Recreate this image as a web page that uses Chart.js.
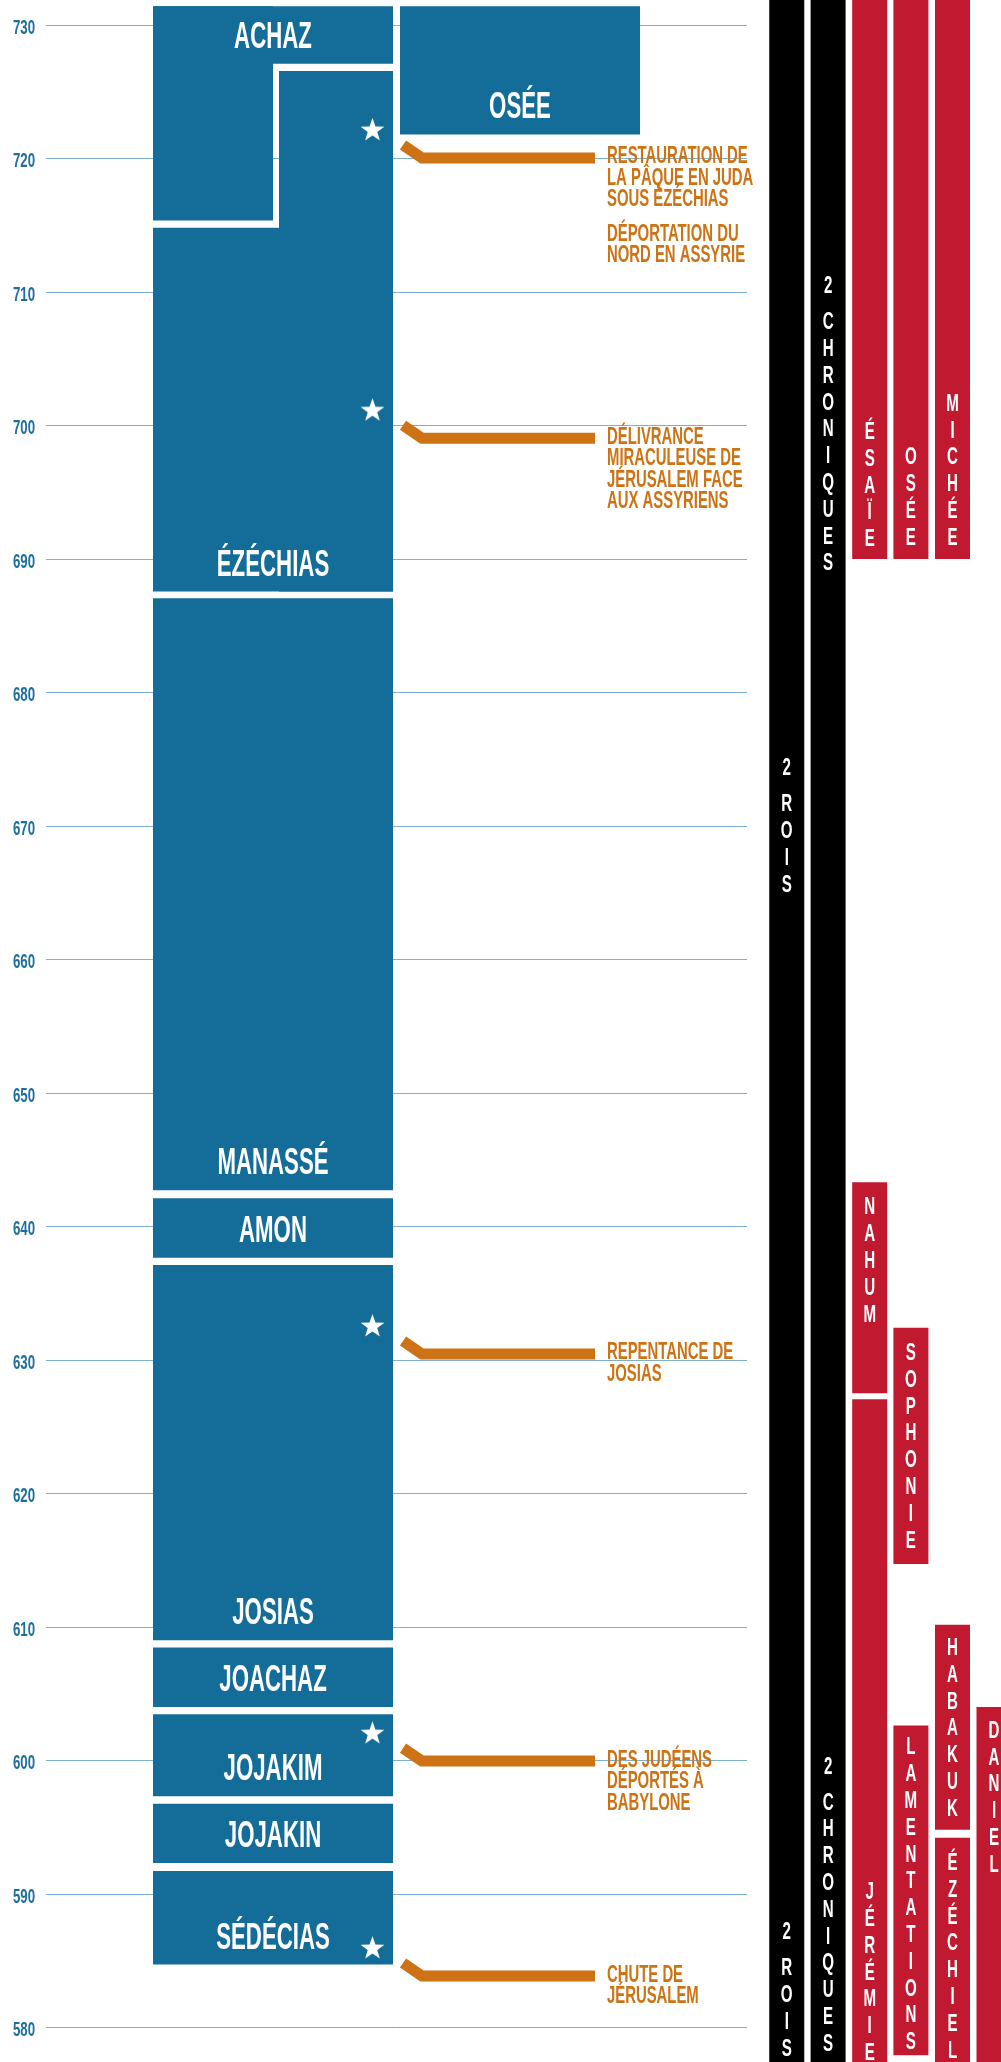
<!DOCTYPE html>
<html lang="fr">
<head>
<meta charset="utf-8">
<title>Rois de Juda et prophètes, 730–580 av. J.-C.</title>
<script src="https://cdn.jsdelivr.net/npm/chart.js@4.4.1/dist/chart.umd.min.js"></script>
<style>
  html, body { margin: 0; padding: 0; background: #ffffff; overflow: hidden; }
  canvas { display: block; }
</style>
</head>
<body>
<canvas id="timeline" width="1001" height="2062"></canvas>
<script>
// years BC, the axis runs down from 730 to 580
const tickYears = [730, 720, 710, 700, 690, 680, 670, 660, 650, 640, 630, 620, 610, 600, 590, 580];

// kings of Judah (full column)
const kingNames = ['ACHAZ', 'ÉZÉCHIAS', 'MANASSÉ', 'AMON', 'JOSIAS', 'JOACHAZ', 'JOJAKIM', 'JOJAKIN', 'SÉDÉCIAS'];
const kingFrom = [731.4, 714.8, 687.05, 642.1, 637.1, 608.45, 603.45, 596.75, 591.7];
const kingTo = [727.1, 687.55, 642.7, 637.65, 609.0, 604.0, 597.3, 592.3, 584.7];

// Achaz (left half) and Ézéchias co-regency (right half)
const coregencyNames = ['ACHAZ', 'ÉZÉCHIAS'];
const coregencyFrom = [731.4, 726.55];
const coregencyTo = [715.35, 687.55];

// king of Israel
const israelNames = ['OSÉE'];
const israelFrom = [731.4];
const israelTo = [721.8];

// books
const bookNames = ['2 ROIS', '2 CHRONIQUES', 'ÉSAÏE', 'OSÉE', 'MICHÉE', 'NAHUM', 'JÉRÉMIE', 'SOPHONIE', 'LAMENTATIONS', 'HABAKUK', 'ÉZÉCHIEL', 'DANIEL'];
const bookGroup = ['histoire', 'histoire', 'prophète', 'prophète', 'prophète', 'prophète', 'prophète', 'prophète', 'prophète', 'prophète', 'prophète', 'prophète'];
const bookColumn = [0, 1, 2, 3, 4, 2, 2, 3, 3, 4, 4, 5];
const bookFrom = [733, 733, 733, 733, 733, 643.3, 627.05, 632.4, 602.6, 610.15, 594.2, 604.0];
const bookTo = [576, 576, 690, 690, 690, 627.5, 576, 614.7, 577.9, 594.8, 576, 576];
const bookLabelYears = [[675.1, 587.9], [711.2, 600.3], [700.3], [698.4], [702.4], [642.2], [590.9], [631.3], [601.75], [609.2], [593.1], [603.0]];

// events
const eventLabels = [
    'RESTAURATION DE\nLA PÂQUE EN JUDA\nSOUS ÉZÉCHIAS',
    'DÉPORTATION DU\nNORD EN ASSYRIE',
    'DÉLIVRANCE\nMIRACULEUSE DE\nJÉRUSALEM FACE\nAUX ASSYRIENS',
    'REPENTANCE DE\nJOSIAS',
    'DES JUDÉENS\nDÉPORTÉS À\nBABYLONE',
    'CHUTE DE\nJÉRUSALEM'
];
const eventYears = [722.1, 716.3, 701.1, 632.5, 602.0, 585.9];
const eventStarred = [true, false, true, true, true, true];

// styles and layout
const BLUE = '#146c99';
const ORANGE = '#cd7315';
const GRID = '#7aafcf';
const TICK_COLOR = '#1f6f9c';
const groupColors = { 'histoire': '#000000', 'prophète': '#c1192f' };
const FONT = "'Liberation Sans', Arial, sans-serif";

// x axis is laid out in pixels (chart area runs 46 -> 1001)
const LANES = {
    judah: { x: 273, w: 240 },
    judahLeft: { x: 213, w: 120 },
    judahRight: { x: 336, w: 114 },
    israel: { x: 520, w: 240 }
};
const coregencyLanes = [LANES.judahLeft, LANES.judahRight];
const bookColumnX = [786.75, 828.1, 869.7, 910.9, 952.5, 994];
const BOOK_W = 35;
const STAR_X = 372.5;

function makeStar(r) {
    const c = document.createElement('canvas');
    c.width = c.height = Math.ceil(r * 2 + 2);
    const g = c.getContext('2d');
    const cx = c.width / 2;
    const cy = c.height / 2;
    g.fillStyle = '#ffffff';
    g.beginPath();
    for (let i = 0; i < 10; i++) {
        const rad = i % 2 ? r * 0.4 : r;
        const a = -Math.PI / 2 + i * Math.PI / 5;
        g.lineTo(cx + rad * Math.cos(a), cy + rad * Math.sin(a));
    }
    g.closePath();
    g.fill();
    return c;
}

function condensedText(ctx, text, x, y, size, squeeze, align, color) {
    ctx.save();
    ctx.font = `bold ${size}px ${FONT}`;
    ctx.fillStyle = color;
    ctx.textAlign = align;
    ctx.textBaseline = 'alphabetic';
    ctx.translate(x, y);
    ctx.scale(squeeze, 1);
    ctx.fillText(text, 0, 0);
    ctx.restore();
}

function floatingBars(from, to, lane) {
    return from.map((f, i) => ({ x: lane.x, y: [to[i], f] }));
}

function barDataset(label, data, width, color, names) {
    return {
        label,
        data,
        names,
        backgroundColor: color,
        barThickness: width,
        grouped: false,
        borderWidth: 0,
        inflateAmount: 0
    };
}

const timelinePlugin = {
    id: 'timeline',
    beforeDatasetsDraw(chart) {
        const { ctx } = chart;
        const y = chart.scales.y;
        ctx.save();
        ctx.strokeStyle = GRID;
        ctx.lineWidth = 1;
        y.ticks.forEach(t => {
            const py = Math.round(y.getPixelForValue(t.value)) + 0.5;
            ctx.beginPath();
            ctx.moveTo(46, py);
            ctx.lineTo(747, py);
            ctx.stroke();
            condensedText(ctx, String(t.value), 35, py + 8.5, 19.5, 0.68, 'right', TICK_COLOR);
        });
        ctx.restore();
    },
    afterDatasetsDraw(chart) {
        const { ctx } = chart;
        const y = chart.scales.y;

        // names inside the reign bars
        chart.data.datasets.forEach((ds, di) => {
            if (!ds.names) return;
            chart.getDatasetMeta(di).data.forEach((el, i) => {
                if (!ds.names[i]) return;
                const bottom = Math.max(el.y, el.base);
                condensedText(ctx, ds.names[i], el.x, bottom - 16, 37.7, 0.59, 'center', '#ffffff');
            });
        });

        // vertical book names
        bookNames.forEach((name, i) => {
            const x = bookColumnX[bookColumn[i]];
            bookLabelYears[i].forEach(yr => {
                let top = y.getPixelForValue(yr);
                for (const ch of name) {
                    if (ch === ' ') {
                        top += 9;
                        continue;
                    }
                    condensedText(ctx, ch, x, top + 17.5, 24.4, 0.62, 'center', '#ffffff');
                    top += 26.8;
                }
            });
        });

        // events: connector + text
        eventLabels.forEach((label, i) => {
            const sy = y.getPixelForValue(eventYears[i]);
            if (eventStarred[i]) {
                ctx.save();
                ctx.beginPath();
                ctx.moveTo(403, sy + 14.5);
                ctx.lineTo(422, sy + 27.5);
                ctx.lineTo(595, sy + 27.5);
                ctx.strokeStyle = ORANGE;
                ctx.lineWidth = 11;
                ctx.lineCap = 'butt';
                ctx.lineJoin = 'miter';
                ctx.stroke();
                ctx.restore();
            }
            label.split('\n').forEach((line, k) => {
                condensedText(ctx, line, 607, sy + 33 + k * 21.5, 24.4, 0.61, 'left', ORANGE);
            });
        });
    }
};

const starData = eventYears
    .map(yr => ({ x: STAR_X, y: yr }))
    .filter((_, i) => eventStarred[i]);

new Chart(document.getElementById('timeline'), {
    type: 'bar',
    data: {
        datasets: [
            {
                type: 'scatter',
                label: 'Événements',
                data: starData,
                pointStyle: makeStar(12.5),
                pointRadius: 12,
                order: -1
            },
            barDataset('Rois de Juda', floatingBars(kingFrom, kingTo, LANES.judah), LANES.judah.w, BLUE, kingNames),
            barDataset('Achaz', floatingBars([coregencyFrom[0]], [coregencyTo[0]], coregencyLanes[0]), coregencyLanes[0].w, BLUE, null),
            barDataset('Ézéchias (corégence)', floatingBars([coregencyFrom[1]], [coregencyTo[1]], coregencyLanes[1]), coregencyLanes[1].w, BLUE, null),
            barDataset("Roi d'Israël", floatingBars(israelFrom, israelTo, LANES.israel), LANES.israel.w, BLUE, israelNames),
            barDataset('Livres',
                bookNames.map((n, i) => ({ x: bookColumnX[bookColumn[i]], y: [bookTo[i], bookFrom[i]] })),
                BOOK_W,
                bookGroup.map(g => groupColors[g]),
                null)
        ]
    },
    options: {
        responsive: false,
        devicePixelRatio: 1,
        animation: false,
        events: [],
        layout: { autoPadding: false, padding: { left: 46, right: 0, top: 0, bottom: 0 } },
        plugins: {
            legend: { display: false },
            tooltip: { enabled: false }
        },
        scales: {
            x: {
                type: 'linear',
                display: false,
                offset: false,
                min: 46,
                max: 1001
            },
            y: {
                type: 'linear',
                display: false,
                beginAtZero: false,
                min: 577.4,
                max: 731.87,
                afterBuildTicks: scale => {
                    scale.ticks = tickYears.map(value => ({ value }));
                }
            }
        }
    },
    plugins: [timelinePlugin]
});
</script>
</body>
</html>
